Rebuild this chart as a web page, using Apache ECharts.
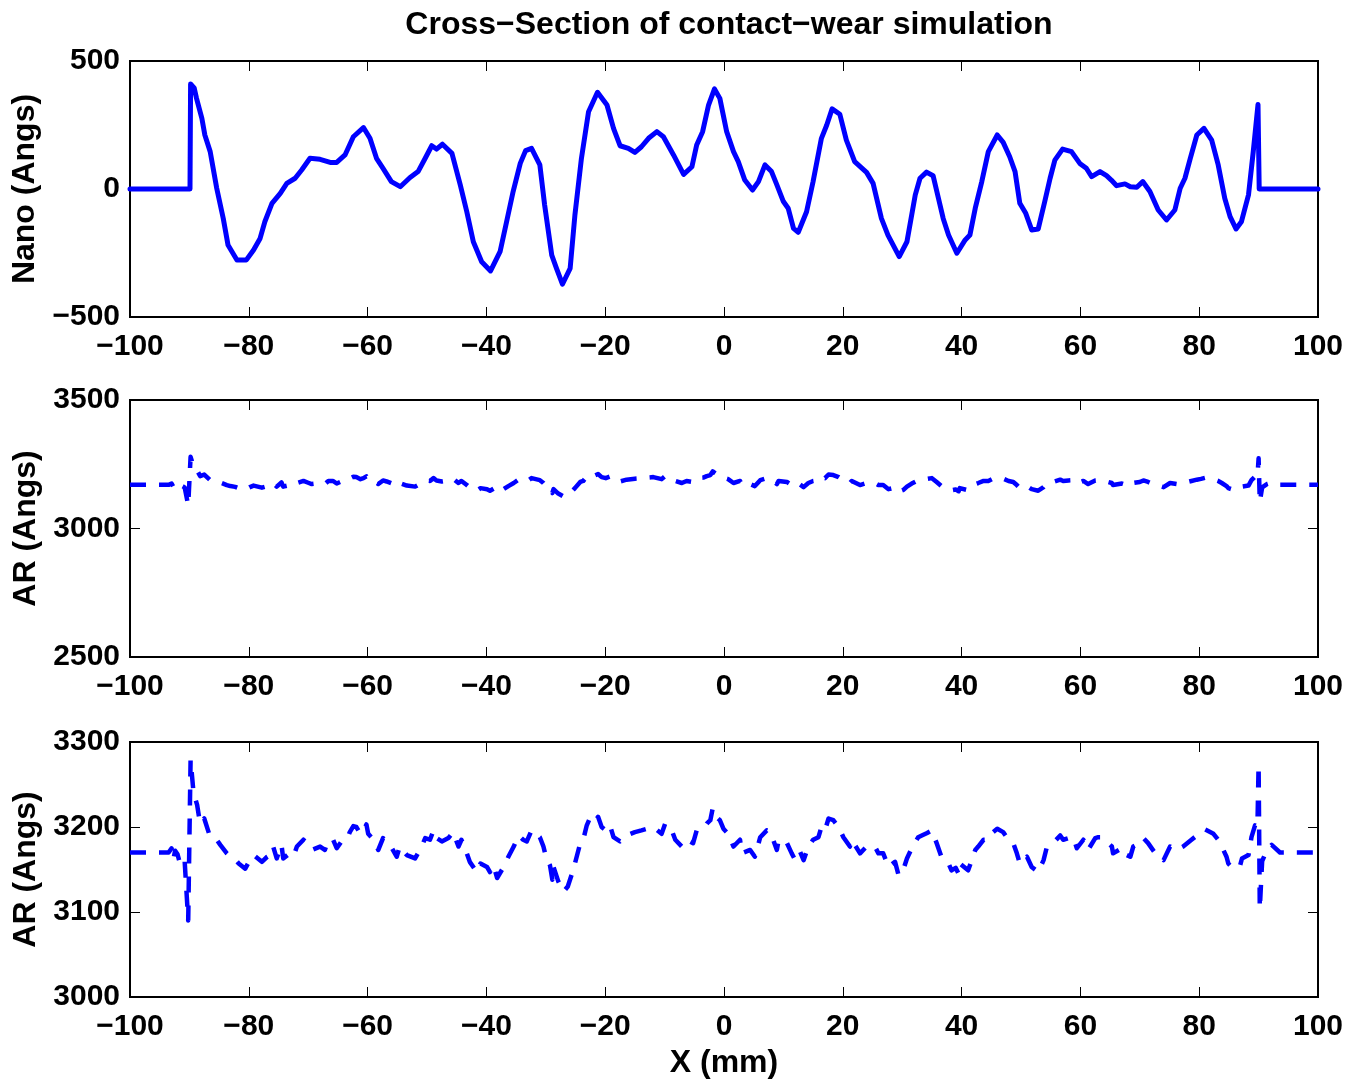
<!DOCTYPE html>
<html>
<head>
<meta charset="utf-8">
<title>Cross-Section of contact-wear simulation</title>
<script src="https://cdn.jsdelivr.net/npm/echarts@6/dist/echarts.min.js"></script>
<style>
  html, body { margin: 0; padding: 0; background: #fff; }
  #chart { width: 1347px; height: 1081px; }
</style>
</head>
<body>
<div id="chart"></div>
<script>
// Nanometrology profile: position (mm) and height (Angs)
const nanoX = [-100, -89.9, -89.8, -89.2, -88.8, -87.9, -87.4, -86.5, -85.4, -84.3, -83.5, -82.0, -80.4, -79.2, -78.1, -77.3, -76.1, -74.7, -73.6, -72.2, -71.1, -69.7, -68.0, -66.3, -65.2, -63.8, -62.4, -60.7, -59.6, -58.5, -57.4, -56.0, -54.5, -52.9, -51.5, -50.3, -49.2, -48.4, -47.4, -45.8, -44.4, -43.3, -42.2, -40.8, -39.3, -37.7, -36.6, -35.5, -34.3, -33.4, -32.4, -31.0, -30.2, -29.0, -28.2, -27.2, -25.9, -25.1, -24.0, -22.8, -21.3, -19.7, -18.6, -17.5, -16.1, -15.0, -13.9, -12.7, -11.3, -10.2, -8.5, -6.8, -5.4, -4.6, -3.6, -2.6, -1.6, -0.7, 0.45, 1.6, 2.4, 3.5, 4.8, 5.8, 6.9, 8.0, 8.9, 10.0, 10.8, 11.7, 12.5, 13.9, 15.0, 16.4, 17.3, 18.2, 19.5, 20.6, 22.0, 24.0, 25.1, 26.5, 27.6, 29.5, 30.8, 32.2, 33.0, 34.1, 35.2, 36.1, 36.9, 37.8, 39.2, 40.6, 41.4, 42.3, 43.4, 44.5, 46.0, 47.0, 48.1, 49.0, 49.8, 50.8, 51.8, 52.9, 54.0, 54.9, 55.7, 57.0, 58.5, 59.9, 61.0, 61.9, 63.3, 64.4, 65.2, 66.1, 67.5, 68.4, 69.5, 70.5, 71.7, 73.1, 74.5, 75.9, 76.8, 77.6, 78.5, 79.6, 80.8, 82.1, 83.2, 84.3, 85.2, 86.2, 87.1, 88.3, 89.1, 89.9, 90.1, 100];
const nanoY = [0, 0, 410, 395, 354, 276, 211, 146, 3, -115, -219, -277, -277, -238, -193, -128, -56, -17, 22, 42, 74, 120, 116, 104, 104, 133, 204, 240, 198, 120, 81, 29, 9, 44, 68, 120, 169, 156, 175, 139, 16, -89, -206, -284, -320, -245, -128, -10, 100, 150, 159, 94, -62, -258, -310, -372, -310, -102, 120, 302, 378, 328, 237, 169, 159, 143, 165, 198, 224, 204, 133, 57, 87, 172, 224, 328, 391, 354, 224, 146, 107, 35, -4, 29, 94, 68, 16, -49, -75, -154, -169, -89, 29, 198, 250, 313, 292, 191, 107, 65, 22, -115, -180, -264, -206, -23, 42, 66, 52, -36, -115, -180, -251, -199, -180, -75, 29, 146, 211, 182, 126, 68, -56, -95, -160, -156, -49, 42, 113, 156, 146, 100, 81, 48, 68, 52, 35, 13, 20, 9, 7, 29, -10, -82, -121, -82, 3, 42, 120, 211, 237, 191, 94, -36, -108, -156, -128, -23, 146, 330, 0, 0];

// AR profile: position (mm) and height (Angs)
const arX = [-100, -93.5, -93.0, -92.7, -92.4, -92.0, -91.7, -91.3, -90.8, -90.2, -89.8, -89.3, -88.7, -88.2, -87.5, -86.5, -85.4, -84.8, -83.7, -83.1, -82.3, -81.7, -80.6, -79.9, -79.2, -77.8, -76.9, -76.4, -75.9, -75.3, -74.5, -74.2, -73.3, -72.5, -71.9, -70.8, -70.0, -69.4, -68.0, -67.2, -66.6, -65.8, -65.2, -64.4, -63.5, -63.0, -62.4, -61.9, -61.2, -60.7, -60.2, -59.9, -59.0, -58.2, -57.4, -56.8, -55.9, -55.1, -54.6, -53.4, -52.0, -50.9, -50.3, -49.5, -48.9, -48.4, -47.5, -46.4, -45.6, -44.7, -44.2, -43.3, -42.8, -41.6, -41.0, -39.9, -39.4, -38.8, -38.2, -37.1, -36.3, -35.4, -34.6, -33.8, -33.2, -32.4, -31.0, -30.4, -29.9, -29.3, -28.9, -28.7, -27.9, -27.0, -26.3, -25.6, -25.1, -24.2, -23.7, -23.1, -22.6, -21.9, -21.2, -20.6, -19.9, -19.2, -18.6, -17.5, -16.4, -15.0, -13.9, -12.9, -11.9, -10.5, -9.9, -8.8, -8.2, -7.1, -6.3, -5.2, -4.6, -3.5, -2.9, -2.3, -1.9, -1.3, -0.7, -0.1, 0.7, 1.6, 2.7, 3.0, 4.4, 5.2, 6.1, 7.2, 7.8, 8.9, 9.2, 10.6, 11.4, 12.0, 12.8, 13.4, 14.2, 15.0, 15.9, 16.4, 17.0, 17.6, 18.4, 19.3, 20.1, 21.2, 21.5, 22.9, 24.0, 25.4, 26.0, 26.8, 27.7, 28.8, 29.4, 30.2, 30.8, 31.6, 32.7, 33.3, 34.2, 35.0, 35.8, 36.6, 37.8, 38.3, 39.0, 39.5, 39.7, 41.1, 41.7, 42.3, 42.8, 43.7, 44.5, 45.3, 46.0, 47.0, 47.9, 48.7, 49.3, 49.8, 51.0, 51.8, 52.9, 53.8, 54.3, 55.4, 56.6, 57.1, 58.0, 58.8, 59.4, 60.5, 61.3, 62.5, 63.0, 63.6, 64.5, 65.3, 65.5, 67.0, 67.2, 68.4, 68.9, 70.0, 70.6, 71.4, 72.6, 73.3, 74.0, 75.1, 76.2, 77.3, 78.7, 79.6, 80.3, 81.0, 82.4, 83.2, 83.8, 84.6, 84.9, 85.7, 86.3, 86.9, 87.2, 88.3, 88.8, 89.4, 89.8, 90.0, 90.2, 90.6, 91.4, 92.2, 93.6, 100];
const arY = [3170, 3170, 3175, 3162, 3172, 3168, 3160, 3166, 3160, 3090, 3279, 3240, 3226, 3204, 3210, 3188, 3185, 3179, 3169, 3165, 3162, 3157, 3151, 3160, 3167, 3159, 3165, 3167, 3177, 3163, 3179, 3163, 3168, 3165, 3177, 3185, 3178, 3173, 3177, 3173, 3185, 3185, 3175, 3183, 3185, 3194, 3201, 3200, 3192, 3196, 3203, 3192, 3185, 3173, 3187, 3183, 3175, 3165, 3177, 3167, 3163, 3177, 3187, 3185, 3196, 3187, 3183, 3187, 3194, 3177, 3185, 3169, 3159, 3147, 3157, 3153, 3147, 3155, 3140, 3153, 3165, 3177, 3190, 3185, 3183, 3196, 3188, 3177, 3163, 3155, 3138, 3153, 3136, 3124, 3130, 3145, 3157, 3181, 3185, 3202, 3210, 3205, 3212, 3200, 3196, 3202, 3188, 3183, 3190, 3194, 3196, 3198, 3200, 3192, 3204, 3196, 3185, 3177, 3185, 3181, 3196, 3198, 3204, 3208, 3222, 3212, 3208, 3198, 3192, 3177, 3185, 3169, 3173, 3165, 3188, 3196, 3194, 3173, 3185, 3181, 3169, 3161, 3171, 3161, 3177, 3185, 3188, 3200, 3196, 3210, 3208, 3200, 3188, 3177, 3185, 3169, 3177, 3177, 3169, 3169, 3153, 3159, 3143, 3150, 3163, 3175, 3188, 3190, 3193, 3196, 3181, 3165, 3157, 3149, 3152, 3145, 3157, 3149, 3161, 3173, 3177, 3185, 3185, 3194, 3198, 3194, 3185, 3181, 3169, 3157, 3165, 3153, 3147, 3161, 3175, 3181, 3190, 3185, 3187, 3188, 3175, 3185, 3173, 3187, 3188, 3188, 3182, 3177, 3169, 3175, 3169, 3165, 3177, 3181, 3187, 3181, 3169, 3166, 3161, 3177, 3173, 3177, 3185, 3190, 3193, 3197, 3192, 3185, 3177, 3165, 3157, 3151, 3153, 3155, 3163, 3167, 3188, 3202, 3200, 3273, 3104, 3160, 3173, 3179, 3170, 3170];

// Axis ranges and tick steps
const xRange = { min: -100, max: 100, interval: 20 };
const nanoRange = { min: -500, max: 500, interval: 500 };
const arWideRange = { min: 2500, max: 3500, interval: 500 };
const arZoomRange = { min: 3000, max: 3300, interval: 100 };

const chartTitle = 'Cross\u2212Section of contact\u2212wear simulation';
const xName = 'X (mm)';
const nanoName = 'Nano (Angs)';
const arName = 'AR (Angs)';

const FONT = '"Liberation Sans", Arial, Helvetica, sans-serif';
const BLUE = '#0000ff';

const fmt = v => String(v).replace('-', '\u2212');
const zip = (xs, ys) => xs.map((x, i) => [x, ys[i]]);

const grids = [
  { left: 130, top: 61, width: 1188, height: 256 },
  { left: 130, top: 400, width: 1188, height: 257 },
  { left: 130, top: 742, width: 1188, height: 255 }
].map(g => Object.assign({ show: true, borderColor: '#000', borderWidth: 2, backgroundColor: '#fff' }, g));

const noLine = { show: false, onZero: false };
const tickStyle = { show: true, inside: true, length: 10, lineStyle: { color: '#000', width: 1 } };
const labelStyle = { color: '#000', fontFamily: FONT, fontWeight: 'bold', fontSize: 30, formatter: fmt };
const nameStyle = { color: '#000', fontFamily: FONT, fontWeight: 'bold', fontSize: 32 };

const xAxes = [];
const yAxes = [];
const yRanges = [nanoRange, arWideRange, arZoomRange];
const yNames = [nanoName, arName, arName];

for (let i = 0; i < 3; i++) {
  // bottom axis with labels
  xAxes.push(Object.assign({
    type: 'value', gridIndex: i, position: 'bottom',
    axisLine: noLine, axisTick: tickStyle, splitLine: { show: false },
    axisLabel: Object.assign({ margin: 15 }, labelStyle),
    name: i === 2 ? xName : '', nameLocation: 'middle', nameGap: 50, nameTextStyle: nameStyle
  }, xRange));
  // mirrored top ticks
  xAxes.push(Object.assign({
    type: 'value', gridIndex: i, position: 'top',
    axisLine: noLine, axisTick: tickStyle, splitLine: { show: false },
    axisLabel: { show: false }
  }, xRange));
  // left axis with labels
  yAxes.push(Object.assign({
    type: 'value', gridIndex: i, position: 'left',
    axisLine: noLine, axisTick: tickStyle, splitLine: { show: false },
    axisLabel: Object.assign({ margin: 10 }, labelStyle),
    name: yNames[i], nameLocation: 'middle', nameRotate: 90, nameGap: 84, nameTextStyle: nameStyle
  }, yRanges[i]));
  // mirrored right ticks
  yAxes.push(Object.assign({
    type: 'value', gridIndex: i, position: 'right',
    axisLine: noLine, axisTick: tickStyle, splitLine: { show: false },
    axisLabel: { show: false }
  }, yRanges[i]));
}

const nanoSeries = {
  type: 'line', xAxisIndex: 0, yAxisIndex: 0, data: zip(nanoX, nanoY),
  showSymbol: false, symbol: 'none', animation: false,
  lineStyle: { color: BLUE, width: 5, cap: 'round', join: 'round' }
};
const arDashed = (axisIdx) => ({
  type: 'line', xAxisIndex: axisIdx, yAxisIndex: axisIdx, data: zip(arX, arY),
  showSymbol: false, symbol: 'none', animation: false,
  lineStyle: { color: BLUE, width: 4.5, type: [16, 13], join: 'round' }
});

const chart = echarts.init(document.getElementById('chart'), null, { renderer: 'canvas' });
chart.setOption({
  animation: false,
  backgroundColor: '#fff',
  title: {
    text: chartTitle, left: 724, textAlign: 'center', top: 4,
    textStyle: { color: '#000', fontFamily: FONT, fontWeight: 'bold', fontSize: 32 }
  },
  grid: grids,
  xAxis: xAxes,
  yAxis: yAxes,
  series: [nanoSeries, arDashed(2), arDashed(4)]
});
</script>
</body>
</html>
